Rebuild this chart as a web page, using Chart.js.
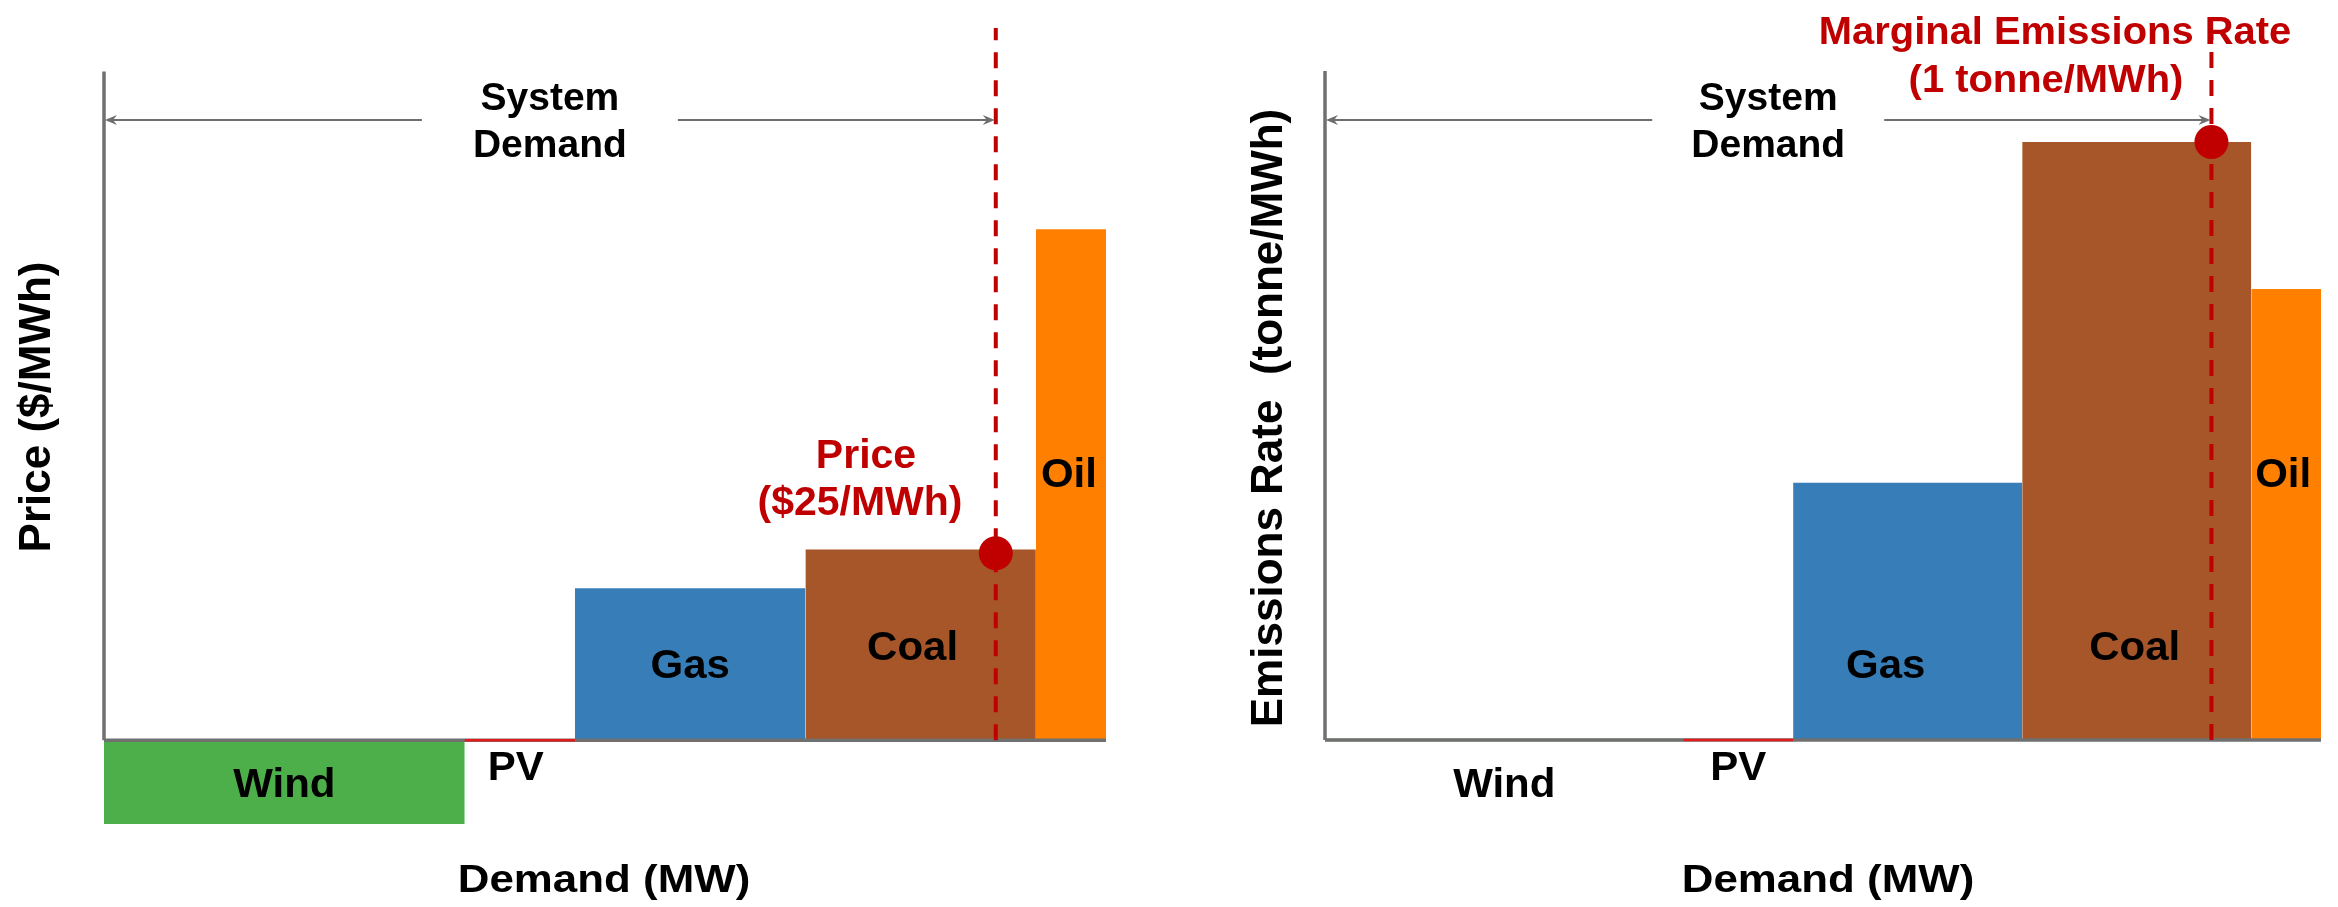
<!DOCTYPE html>
<html><head><meta charset="utf-8">
<script src="https://cdn.jsdelivr.net/npm/chart.js@4.4.1/dist/chart.umd.min.js"></script>
<style>
html,body{margin:0;padding:0;background:#fff;}
#wrap{position:relative;width:2338px;height:907px;overflow:hidden;}
canvas{position:absolute;top:0;}
</style></head><body>
<div id="wrap">
<canvas id="left" width="1169" height="907" style="left:0"></canvas>
<canvas id="right" width="1169" height="907" style="left:1169px"></canvas>
</div>
<script>
// ---------- data ----------
const categories = ['Wind', 'PV', 'Gas', 'Coal', 'Oil'];
const capacityMW = [36, 11, 23, 23, 7];
const priceUSDperMWh = [-11.2, 0, 20.3, 25.5, 68.3];
const emissionsTonnePerMWh = [0, 0, 0.43, 1.0, 0.754];
const systemDemandMW = 89;
const marginalPrice = 25;
const marginalEmissions = 1;

// ---------- styles ----------
const fillColors = ['#4daf4a', '#e41a1c', '#377eb8', '#a65628', '#ff7f00'];
const RED = '#c00000', AXIS = '#707070';
const FONT = '"Liberation Sans", Arial, sans-serif';

function buildDatasets(values, axisTop, yMax, marginal) {
  const ds = [];
  let start = 0;
  categories.forEach((cat, i) => {
    const end = start + capacityMW[i];
    const v = values[i];
    const flat = v === 0;
    ds.push({
      label: cat,
      data: [{x: start, y: 0}, {x: start, y: v}, {x: end, y: v}, {x: end, y: 0}],
      fill: flat ? false : 'origin',
      backgroundColor: fillColors[i],
      borderColor: flat ? fillColors[i] : 'rgba(0,0,0,0)',
      borderWidth: flat ? 2.6 : 0,
      pointRadius: 0, tension: 0, clip: false,
      order: flat ? (cat === 'PV' ? 1 : 3) : 5
    });
    start = end;
  });
  const total = start;
  ds.push({label: 'x-axis', data: [{x: 0, y: 0}, {x: total, y: 0}], borderColor: AXIS, borderWidth: 3.5,
    pointRadius: 0, fill: false, clip: false, order: 2});
  ds.push({label: 'y-axis', data: [{x: 0, y: 0}, {x: 0, y: axisTop}], borderColor: AXIS, borderWidth: 3.5,
    pointRadius: 0, fill: false, clip: false, order: 2});
  ds.push({label: 'demand', data: [{x: systemDemandMW, y: 0}, {x: systemDemandMW, y: yMax}],
    borderColor: RED, borderWidth: 4, borderDash: [16, 12], pointRadius: 0, fill: false, clip: false, order: 0.5});
  ds.push({label: 'marginal', data: [{x: systemDemandMW, y: marginal}], showLine: false,
    pointRadius: 17, pointBackgroundColor: RED, pointBorderWidth: 0, clip: false, order: 0});
  return {ds, total};
}

function arrowHead(ctx, x, y, dir) {
  ctx.beginPath();
  ctx.moveTo(x, y);
  ctx.lineTo(x - dir * 12, y - 5);
  ctx.lineTo(x - dir * 8, y);
  ctx.lineTo(x - dir * 12, y + 5);
  ctx.closePath();
  ctx.fill();
}

function drawText(ctx, t, x, y, size, color, sx, rot) {
  ctx.save();
  ctx.translate(x, y);
  if (rot) ctx.rotate(rot);
  ctx.scale(sx || 1, 1);
  ctx.font = 'bold ' + size + 'px ' + FONT;
  ctx.fillStyle = color;
  ctx.textAlign = 'center';
  ctx.textBaseline = 'alphabetic';
  ctx.fillText(t, 0, 0);
  ctx.restore();
}

const annotPlugin = {
  id: 'annot',
  afterDatasetsDraw(chart, args, o) {
    const ctx = chart.ctx, xs = chart.scales.x;
    const x0 = xs.getPixelForValue(0), x1 = xs.getPixelForValue(systemDemandMW);
    const cx = xs.getPixelForValue(systemDemandMW / 2);
    ctx.save();
    ctx.strokeStyle = ctx.fillStyle = '#6e6e6e';
    ctx.lineWidth = 2.2;
    ctx.beginPath();
    ctx.moveTo(x0 + 4, o.arrowY); ctx.lineTo(cx - o.gap, o.arrowY);
    ctx.moveTo(cx + o.gap, o.arrowY); ctx.lineTo(x1 - 4, o.arrowY);
    ctx.stroke();
    arrowHead(ctx, x0 + 1, o.arrowY, -1);
    arrowHead(ctx, x1 - 1, o.arrowY, 1);
    ctx.restore();
    drawText(ctx, 'System', cx, 110, 39, '#000');
    drawText(ctx, 'Demand', cx, 157, 39, '#000');
    let start = 0;
    categories.forEach((cat, i) => {
      const mid = xs.getPixelForValue(start + capacityMW[i] / 2);
      drawText(ctx, cat, mid + o.labelDx[i], o.labelY[i], 40, '#000', 1.05);
      start += capacityMW[i];
    });
    o.redText.forEach(r => drawText(ctx, r.t, r.x, r.y, r.s, RED, r.sx));
    drawText(ctx, 'Demand (MW)', o.xTitle.x, o.xTitle.y, 38.5, '#000', 1.14);
    drawText(ctx, o.yTitle.t, o.yTitle.x, o.yTitle.y, 44, '#000', 1, -Math.PI / 2);
  }
};

function makeChart(id, values, yMin, yMax, axisTop, marginal, padding, annot) {
  const {ds, total} = buildDatasets(values, axisTop, yMax, marginal);
  return new Chart(document.getElementById(id), {
    type: 'line',
    data: {datasets: ds},
    options: {
      responsive: false, animation: false, devicePixelRatio: 1,
      layout: {padding},
      scales: {
        x: {type: 'linear', min: 0, max: total, display: false},
        y: {type: 'linear', min: yMin, max: yMax, display: false}
      },
      plugins: {legend: {display: false}, tooltip: {enabled: false}, annot}
    },
    plugins: [annotPlugin]
  });
}

const labelY = [797, 780, 678, 660, 487];

makeChart('left', priceUSDperMWh, -11.2, 95.2, 89.4, marginalPrice,
  {left: 104, right: 63, top: 28, bottom: 83},
  {arrowY: 120, gap: 128, labelY, labelDx: [0, -4, 0, -8, -2],
   redText: [{t: 'Price', x: 866, y: 468, s: 41}, {t: '($25/MWh)', x: 860, y: 515, s: 41}],
   xTitle: {x: 604, y: 892}, yTitle: {t: 'Price ($/MWh)', x: 50, y: 407}});

makeChart('right', emissionsTonnePerMWh, -0.1405, 1.1823, 1.1187, marginalEmissions,
  {left: 156, right: 10, top: 33, bottom: 83},
  {arrowY: 120, gap: 116, labelY, labelDx: [0, 0, -22, -2, -3],
   redText: [{t: 'Marginal Emissions Rate', x: 886, y: 44, s: 38, sx: 1.05}, {t: '(1 tonne/MWh)', x: 877, y: 92, s: 38, sx: 1.05}],
   xTitle: {x: 659, y: 892}, yTitle: {t: 'Emissions Rate  (tonne/MWh)', x: 113, y: 418}});
</script>
</body></html>
